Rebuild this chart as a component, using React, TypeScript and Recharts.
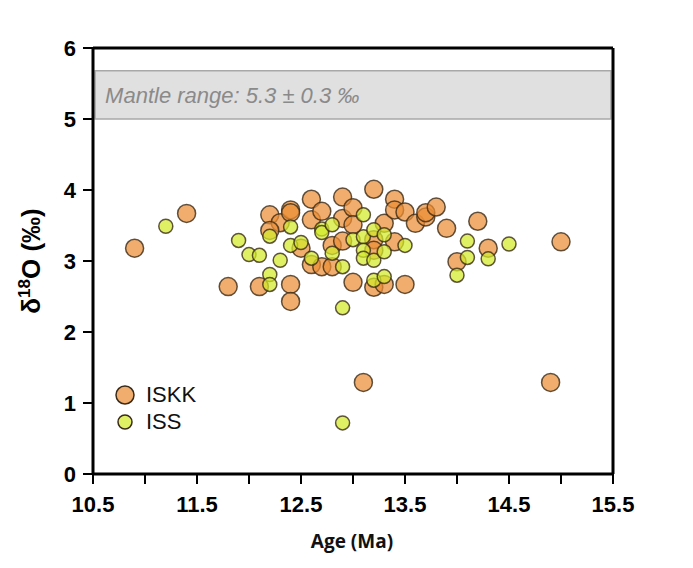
import { ScatterChart, Scatter, XAxis, YAxis, ReferenceArea, Legend } from 'recharts'

// ISKK (orange) – age (Ma) and d18O (permil)
const iskkAge = [
  10.9, 11.4, 11.8, 12.1, 12.2, 12.3, 12.2, 12.4, 12.4, 12.4, 12.4, 12.5, 12.6, 12.6, 12.6,
  12.7, 12.7, 12.8, 12.8, 12.9, 12.9, 12.9, 13.0, 13.0, 13.0, 13.1, 13.2, 13.2, 13.2, 13.2,
  13.3, 13.3, 13.4, 13.4, 13.4, 13.5, 13.5, 13.6, 13.7, 13.7, 13.8, 13.9, 14.0, 14.2, 14.3,
  14.9, 15.0,
]
const iskkD18O = [
  3.18, 3.67, 2.64, 2.64, 3.65, 3.54, 3.43, 3.72, 3.68, 2.67, 2.43, 3.18, 3.87, 3.58, 2.95,
  3.70, 2.92, 2.92, 3.22, 3.90, 3.28, 3.60, 3.75, 3.51, 2.70, 1.29, 4.01, 2.63, 3.30, 3.15,
  2.67, 3.53, 3.87, 3.72, 3.27, 3.69, 2.67, 3.53, 3.62, 3.68, 3.76, 3.46, 2.99, 3.56, 3.18,
  1.29, 3.27,
]

// ISS (green)
const issAge = [
  11.2, 11.9, 12.0, 12.1, 12.2, 12.2, 12.2, 12.3, 12.4, 12.4, 12.5, 12.6, 12.7, 12.7, 12.8,
  12.8, 12.9, 12.9, 12.9, 13.0, 13.1, 13.1, 13.1, 13.1, 13.2, 13.2, 13.2, 13.3, 13.3, 13.3,
  13.5, 14.0, 14.1, 14.1, 14.3, 14.5,
]
const issD18O = [
  3.49, 3.29, 3.09, 3.08, 2.81, 2.67, 3.35, 3.01, 3.48, 3.22, 3.26, 3.04, 3.45, 3.40, 3.51,
  3.11, 2.92, 2.34, 0.72, 3.30, 3.65, 3.34, 3.15, 3.04, 3.44, 3.01, 2.73, 3.37, 3.13, 2.78,
  3.22, 2.80, 3.28, 3.05, 3.03, 3.24,
]

const xTicks = [10.5, 11, 11.5, 12, 12.5, 13, 13.5, 14, 14.5, 15, 15.5]
const yTicks = [0, 1, 2, 3, 4, 5, 6]
const mantleLow = 5.0
const mantleHigh = 5.68

const iskk = iskkAge.map((x, i) => ({ x, y: iskkD18O[i] }))
const iss = issAge.map((x, i) => ({ x, y: issD18O[i] }))

const ORANGE = '#EC8E35'
const GREEN = '#D2EA2A'

const dot = (r: number, fill: string) => (props: any) => (
  <circle
    cx={props.cx}
    cy={props.cy}
    r={r}
    fill={fill}
    fillOpacity={0.72}
    stroke="#3a2a18"
    strokeWidth={1.5}
    strokeOpacity={0.8}
  />
)

const tickFont = { fontFamily: 'Liberation Sans, Arial, sans-serif', fontWeight: 700, fontSize: 22, fill: '#000' }
const axisLine = { stroke: '#000', strokeWidth: 3 }
const tickLine = { stroke: '#000', strokeWidth: 2 }

const LegendBox = () => (
  <div style={{ fontFamily: 'Liberation Sans, Arial, sans-serif', fontSize: 22, color: '#111' }}>
    {[
      { name: 'ISKK', color: ORANGE, r: 9 },
      { name: 'ISS', color: GREEN, r: 7 },
    ].map((item) => (
      <div key={item.name} style={{ display: 'flex', alignItems: 'center', height: 27 }}>
        <svg width={24} height={24} style={{ marginRight: 9 }}>
          <circle cx={12} cy={12} r={item.r} fill={item.color} fillOpacity={0.72} stroke="#3a2a18" strokeWidth={1.5} />
        </svg>
        <span>{item.name}</span>
      </div>
    ))}
  </div>
)

export default function App() {
  return (
    <div style={{ width: 677, height: 552, background: '#fff' }}>
      <ScatterChart width={677} height={552} margin={{ top: 25, right: 52, bottom: 26, left: 25 }}>
        <XAxis
          type="number"
          dataKey="x"
          domain={[10.5, 15.5]}
          ticks={xTicks}
          interval={0}
          tickFormatter={(v: number) => (Math.round(v * 10) % 10 === 5 ? v.toFixed(1) : '')}
          height={60}
          tickSize={10}
          tickMargin={12}
          axisLine={axisLine}
          tickLine={tickLine}
          tick={tickFont}
          label={{
            content: () => (
              <text
                x={344}
                y={540}
                textAnchor="middle"
                fontFamily="Open Sans, sans-serif"
                fontWeight={700}
                fontSize={19}
                fill="#111"
              >
                Age (Ma)
              </text>
            ),
          }}
        />
        <XAxis
          xAxisId="top"
          orientation="top"
          type="number"
          dataKey="x"
          domain={[10.5, 15.5]}
          ticks={xTicks}
          interval={0}
          tickFormatter={() => ''}
          height={15}
          tickSize={12}
          axisLine={axisLine}
          tickLine={tickLine}
        />
        <YAxis
          type="number"
          dataKey="y"
          domain={[0, 6]}
          ticks={yTicks}
          interval={0}
          width={60}
          tickSize={10}
          tickMargin={7}
          axisLine={axisLine}
          tickLine={tickLine}
          tick={tickFont}
          label={{
            content: () => (
              <text
                transform="translate(32,253) rotate(-90)"
                textAnchor="middle"
                fontFamily="Liberation Sans, Arial, sans-serif"
                fontWeight={700}
                fontSize={26}
                fill="#000"
              >
                δ
                <tspan dy={-10} fontSize={17}>18</tspan>
                <tspan dy={10}>O (‰)</tspan>
              </text>
            ),
          }}
        />
        <YAxis
          yAxisId="r"
          orientation="right"
          type="number"
          domain={[0, 6]}
          ticks={yTicks}
          interval={0}
          width={20}
          tickSize={10}
          tickFormatter={() => ''}
          axisLine={axisLine}
          tickLine={tickLine}
        />
        <ReferenceArea
          x1={10.52}
          x2={15.48}
          y1={mantleLow}
          y2={mantleHigh}
          fill="#e0e0e0"
          fillOpacity={1}
          stroke="#a8a8a8"
          strokeWidth={1.5}
          label={{
            value: 'Mantle range: 5.3 ± 0.3 ‰',
            position: 'insideLeft',
            offset: 10,
            fill: '#8a8a8a',
            fontSize: 22,
            fontStyle: 'italic',
            fontFamily: 'Liberation Sans, Arial, sans-serif',
          }}
        />
        <Scatter name="ISKK" data={iskk} shape={dot(9, ORANGE)} isAnimationActive={false} />
        <Scatter name="ISS" data={iss} shape={dot(7, GREEN)} isAnimationActive={false} />
        <Legend
          layout="horizontal"
          verticalAlign="middle"
          align="center"
          content={<LegendBox />}
          wrapperStyle={{ position: 'absolute', left: 105, top: 373, width: 'auto', height: 'auto' }}
        />
      </ScatterChart>
    </div>
  )
}
